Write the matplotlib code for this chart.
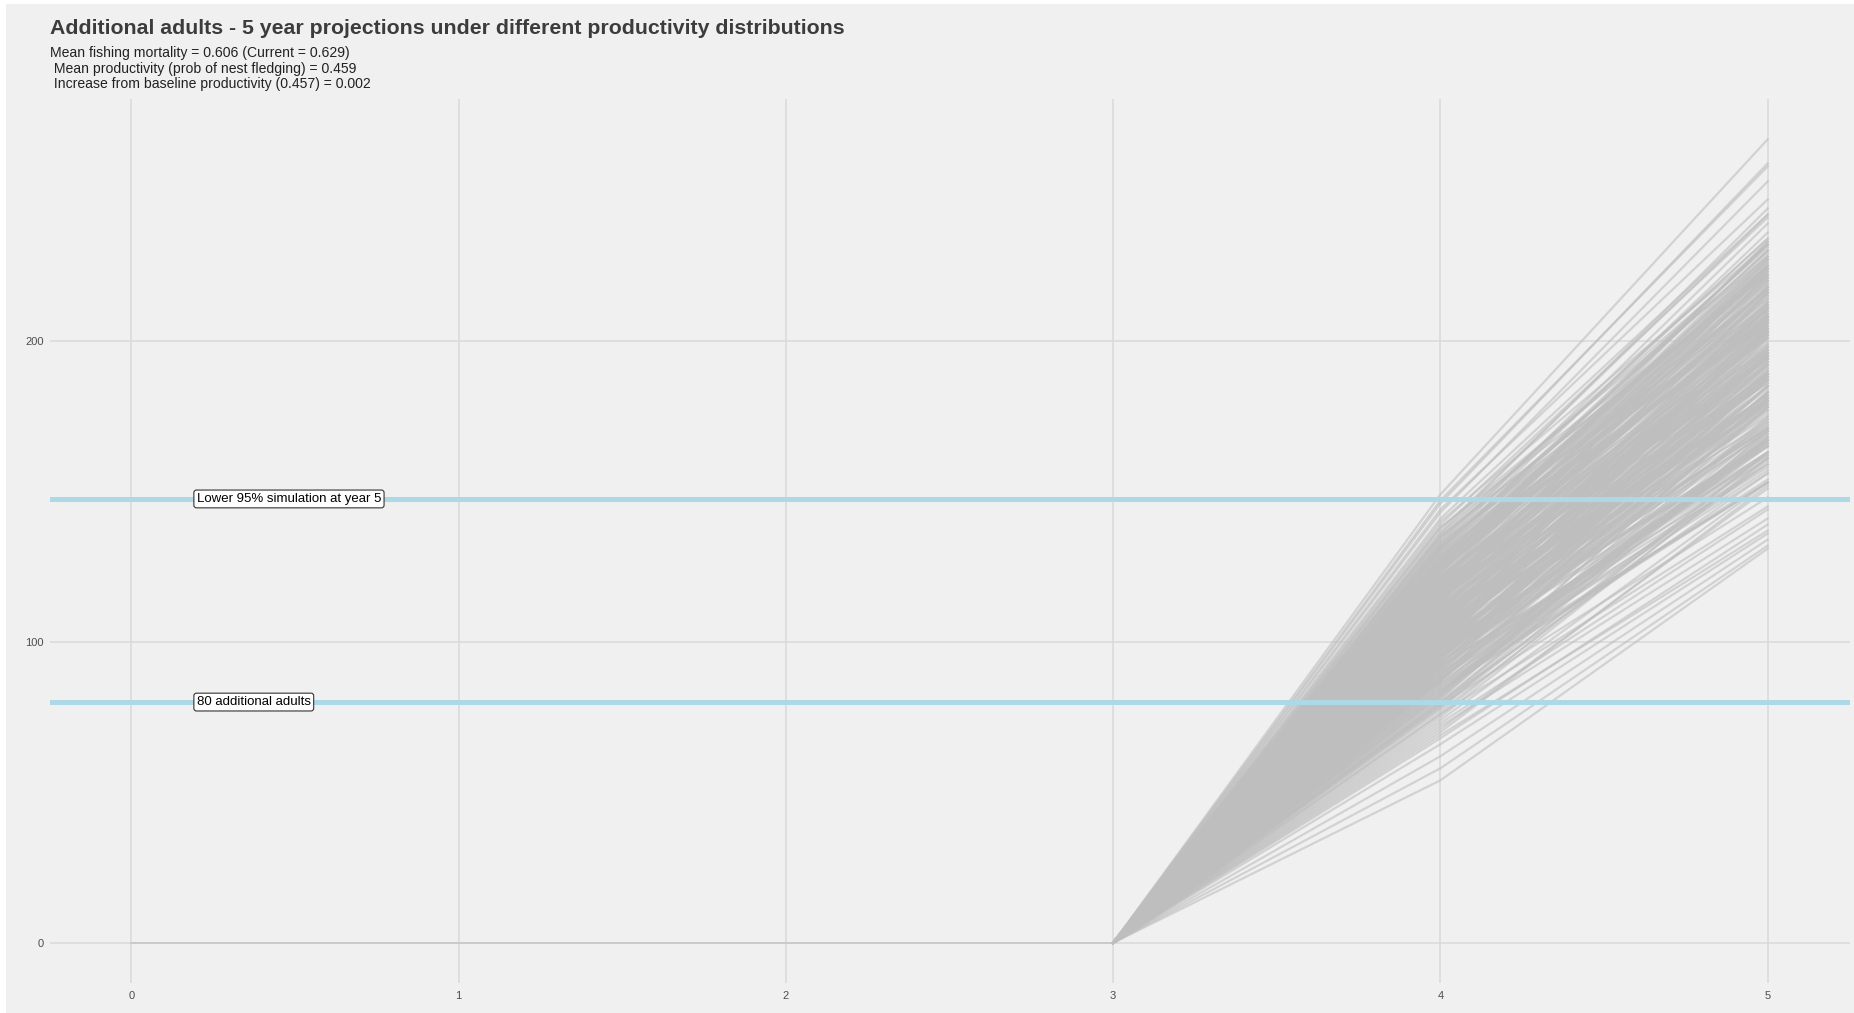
import matplotlib
matplotlib.use("Agg")
import matplotlib.pyplot as plt
import numpy as np
from matplotlib.patches import Rectangle

plt.rcParams.update({
    "font.family": ["Liberation Sans", "DejaVu Sans"],
    "figure.dpi": 100, "savefig.dpi": 100,
})

# Simulation years and per-simulation values (additional adults)
years = [0, 1, 2, 3, 4, 5]
year4 = [
    98, 112, 87, 121, 104, 76, 133, 95, 109, 118, 82, 101, 127, 91, 115, 106, 73, 124, 97, 110,
    88, 119, 103, 131, 79, 114, 93, 126, 100, 85, 137, 108, 96, 122, 71, 117, 105, 90, 129, 99,
    111, 84, 123, 102, 135, 94, 78, 116, 107, 128, 89, 120, 97, 74, 113, 125, 92, 106, 139, 86,
    101, 118, 81, 130, 95, 109, 68, 121, 104, 114, 91, 127, 99, 83, 116, 108, 134, 93, 111, 77,
    124, 96, 105, 119, 87, 132, 100, 113, 80, 122, 94, 110, 141, 89, 103, 126, 75, 117, 98, 107,
    84, 129, 102, 115, 92, 136, 70, 120, 106, 97, 124, 88, 112, 101, 131, 79, 118, 95, 109, 143,
    90, 114, 103, 127, 86, 121, 99, 66, 116, 108, 133, 93, 105, 119, 82, 125, 100, 111, 146, 96,
    107, 123, 85, 113, 98, 130, 76, 117, 104, 128, 91, 110, 62, 120, 102, 135, 88, 115, 97, 149,
    72, 112, 126, 94, 106, 138, 83, 119, 101, 58, 124, 109, 92, 131, 99, 116, 80, 121, 104, 147,
    96, 118, 54, 125, 103, 87, 132, 110, 95, 122, 69, 114, 100, 128, 89, 140, 106, 117, 93, 144,
    103, 117, 92, 126, 108, 85, 121, 99, 113, 131, 95, 110, 79, 124, 102, 118, 89, 134, 106, 97,
    115, 88, 128, 101, 93, 120, 107, 82, 125, 111, 98, 136, 104, 116, 91, 122, 100, 86, 129, 109,
    94, 119, 105, 132, 87, 114, 123, 96, 108, 80, 127, 102, 117, 90, 112, 138, 99, 121, 84, 106,
    126, 97, 110, 83, 119, 104, 133, 92, 115, 101, 124, 88, 107, 128, 95, 113, 78, 120, 103, 130,
    100, 122, 87, 114, 109, 96, 131, 105, 81, 118, 93, 125, 111, 98, 135, 102, 116, 90, 123, 107,
]
year5 = [
    190, 189, 183, 207, 193, 145, 239, 162, 203, 210, 181, 179, 206, 183, 202, 206, 144, 220, 170, 207,
    165, 224, 171, 232, 170, 195, 181, 217, 202, 153, 242, 189, 201, 204, 151, 208, 177, 188, 216, 187,
    205, 153, 233, 185, 222, 190, 163, 190, 204, 225, 166, 192, 196, 153, 194, 229, 162, 213, 241, 166,
    174, 211, 174, 217, 188, 182, 139, 224, 188, 220, 163, 226, 166, 171, 207, 208, 223, 167, 218, 160,
    208, 196, 187, 212, 179, 236, 171, 209, 156, 197, 196, 187, 242, 165, 203, 217, 161, 187, 192, 195,
    167, 210, 197, 198, 159, 244, 152, 226, 189, 172, 221, 187, 189, 193, 224, 148, 218, 192, 178, 253,
    183, 197, 192, 228, 153, 209, 204, 136, 215, 179, 220, 180, 204, 199, 168, 233, 176, 197, 259, 163,
    187, 225, 168, 215, 171, 209, 163, 211, 172, 227, 189, 194, 134, 203, 207, 234, 157, 216, 188, 267,
    141, 208, 207, 191, 194, 228, 180, 201, 198, 132, 213, 206, 161, 230, 165, 222, 167, 202, 194, 258,
    185, 194, 131, 228, 182, 181, 217, 216, 177, 208, 137, 206, 196, 206, 178, 232, 181, 221, 185, 247,
    201, 198, 193, 225, 181, 159, 227, 180, 222, 214, 188, 180, 161, 214, 204, 195, 178, 234, 173, 195,
    216, 161, 205, 205, 173, 219, 182, 175, 212, 203, 165, 231, 211, 196, 188, 224, 180, 169, 232, 182,
    183, 191, 204, 219, 185, 201, 218, 167, 203, 170, 206, 189, 223, 163, 195, 222, 203, 208, 154, 200,
    223, 170, 212, 168, 203, 199, 210, 195, 202, 171, 227, 167, 211, 212, 185, 186, 169, 213, 181, 232,
    195, 209, 156, 218, 196, 188, 230, 175, 178, 211, 170, 230, 186, 189, 221, 184, 225, 158, 216, 205,
]

target_adults = 80
lower95_year5 = 147.5
ref_labels = ["80 additional adults", "Lower 95% simulation at year 5"]
ref_values = [target_adults, lower95_year5]

title = "Additional adults - 5 year projections under different productivity distributions"
subtitle = ("Mean fishing mortality = 0.606 (Current = 0.629)\n"
            " Mean productivity (prob of nest fledging) = 0.459\n"
            " Increase from baseline productivity (0.457) = 0.002")

BG = "#F0F0F0"
GRID = "#D9D9D9"
SIM = "#BEBEBE"
REF = "#ADD8E6"

W, H = 1854, 1013
fig = plt.figure(figsize=(W / 100, H / 100), facecolor="white")
fig.patches.append(Rectangle((6 / W, 0), 1 - 6 / W, 1 - 4 / H, transform=fig.transFigure,
                             facecolor=BG, edgecolor="none", zorder=-5))

ax = fig.add_axes([49.5 / W, 1 - 983 / H, (1849.5 - 49.5) / W, (983 - 99) / H])
ax.set_facecolor(BG)
for s in ax.spines.values():
    s.set_visible(False)

ax.set_xlim(-0.25, 5.25)
ax.set_ylim(-13.35, 280.4)
ax.set_xticks(years)
ax.set_yticks([0, 100, 200])
ax.grid(True, color=GRID, lw=1.1)
ax.set_axisbelow(True)
ax.tick_params(length=0, labelsize=8, colors="#4D4D4D")
ax.tick_params(axis="x", pad=6)
ax.tick_params(axis="y", pad=4)

# flat part of every trajectory (years 0-3)
ax.plot(years[:4], [0, 0, 0, 0], color="#C8C8C8", lw=1.3, zorder=2)

# simulation trajectories
for v4, v5 in zip(year4, year5):
    ax.plot(years[3:], [0, v4, v5], color=SIM, lw=1.6, alpha=0.6, zorder=2,
            solid_joinstyle="round")

# reference lines with labels
for lab, val in zip(ref_labels, ref_values):
    ax.axhline(val, color=REF, lw=3.6, zorder=3)
    ax.text(0.2, val, lab, ha="left", va="center", fontsize=9.5, color="black", zorder=4,
            bbox=dict(boxstyle="round,pad=0.22,rounding_size=0.2", facecolor="white",
                      edgecolor="#333333", lw=0.8))

fig.text(50 / W, 1 - 28 / H, title, ha="left", va="center", fontsize=15.3,
         fontweight="bold", color="#3C3C3C")
fig.text(50 / W, 1 - 46 / H, subtitle, ha="left", va="top", fontsize=10.1,
         color="#222222", linespacing=1.15)

fig.savefig("out.png", dpi=100, facecolor="white")
